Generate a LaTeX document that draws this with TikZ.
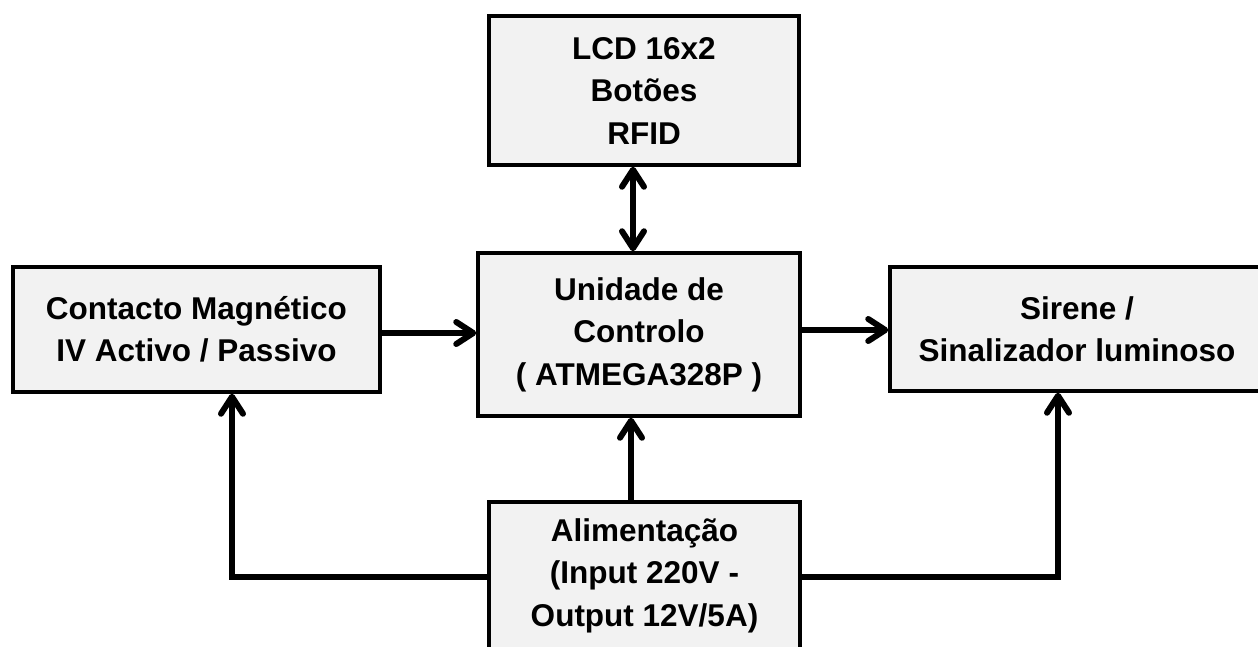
\documentclass[tikz,border=0pt]{standalone}
\usepackage{fontspec}
\setmainfont{Liberation Sans}
\usetikzlibrary{arrows.meta,calc}
\definecolor{boxgray}{HTML}{F2F2F2}
\tikzset{
  blockbox/.style={draw, line width=3.5pt, fill=boxgray, align=center, inner sep=0pt,
    font=\bfseries\fontsize{31.5}{42.5}\selectfont},
  arr/.style={line width=6pt, -{Straight Barb[length=17pt,width=22pt,round]}},
  dblarr/.style={line width=6pt, {Straight Barb[length=17pt,width=22pt,round]}-{Straight Barb[length=17pt,width=22pt,round]}}
}
\begin{document}
\begin{tikzpicture}[x=1pt,y=-1pt]
\clip (0,0) rectangle (1258,646);
\fill[white] (0,0) rectangle (1258,646);
\node[blockbox, minimum width=310pt, minimum height=149pt] (lcd) at (644,90.5) {LCD 16x2\\Botões\\RFID};
\node[blockbox, minimum width=322pt, minimum height=163pt] (ctrl) at (639,334.5) {Unidade de\\Controlo\\( ATMEGA328P )};
\node[blockbox, minimum width=367pt, minimum height=125pt] (cm) at (196.5,329.5) {Contacto Magnético\\IV Activo / Passivo};
\node[blockbox, minimum width=374pt, minimum height=124pt] (sir) at (1077,329) {Sirene /\\Sinalizador luminoso};
\node[blockbox, minimum width=311pt, minimum height=147pt] (pow) at (644.5,575.5) {Alimentação\\(Input 220V -\\Output 12V/5A)};
% connectors
\draw[dblarr] ([xshift=-6pt]ctrl.north) -- ([xshift=-6pt]ctrl.north |- lcd.south);
\draw[arr] ([yshift=-3.5pt]cm.east) -- ([yshift=-3.5pt]cm.east -| ctrl.west);
\draw[arr] ([yshift=4.5pt]ctrl.east) -- ([yshift=4.5pt]ctrl.east -| sir.west);
\draw[arr] ([xshift=-13.5pt]pow.north) -- ([xshift=-13.5pt]pow.north |- ctrl.south);
\draw[arr] ([yshift=-1.5pt]pow.west) -| ([xshift=35.5pt]cm.south);
\draw[arr] ([yshift=-1.5pt]pow.east) -| ([xshift=-19pt]sir.south);
\end{tikzpicture}
\end{document}
